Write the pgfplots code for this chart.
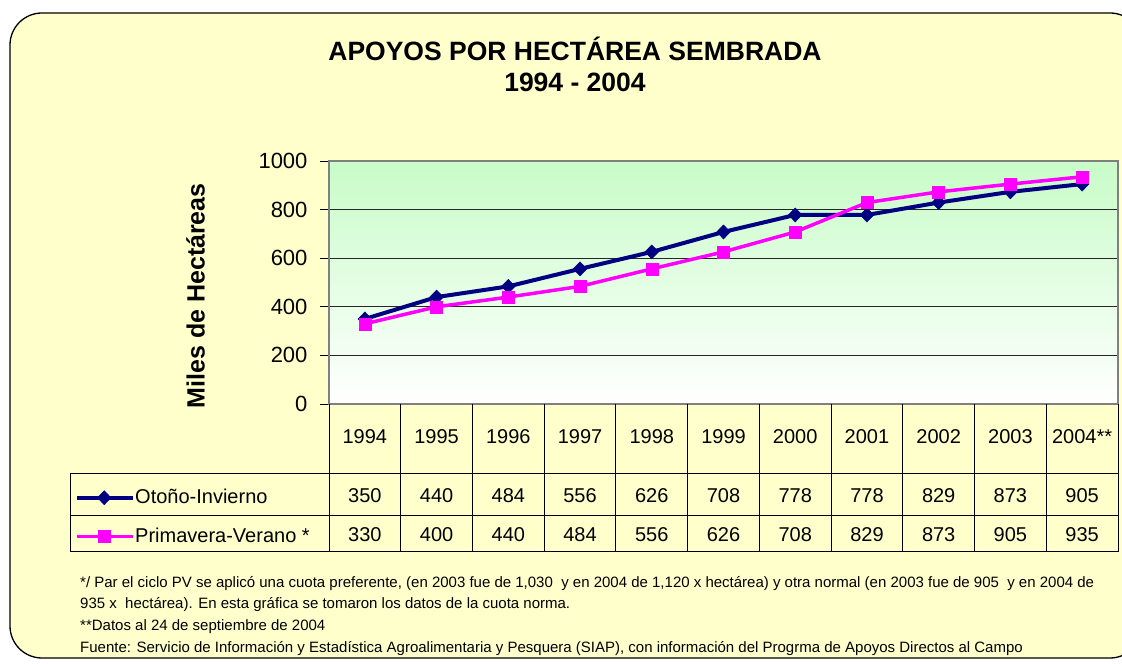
\documentclass[border=0pt]{standalone}
\usepackage{fontspec}
\setmainfont{Liberation Sans}
\usepackage{pgfplots}
\pgfplotsset{compat=1.18}
\definecolor{bgy}{HTML}{FFFFCC}
\definecolor{pgreen}{HTML}{C8FCC8}
\definecolor{navyc}{HTML}{000080}
\definecolor{magc}{HTML}{FF00FF}
\begin{document}
\begin{tikzpicture}[x=1pt,y=1pt]
\useasboundingbox (0,0) rectangle (1122,664);
\fill[white] (0,0) rectangle (1122,664);
\begin{scope}
\clip (0,0) rectangle (1122,664);
\draw[black, line width=1.3pt, fill=bgy, rounded corners=32pt] (10,6) rectangle (1142,651);
\end{scope}
% title
\node[font=\fontsize{26.5}{30}\selectfont\bfseries, anchor=base] at (575,603) {APOYOS POR HECTÁREA SEMBRADA};
\node[font=\fontsize{26.5}{30}\selectfont\bfseries, anchor=base] at (575,572) {1994 - 2004};
\begin{axis}[
  at={(329pt,260pt)}, anchor=south west, scale only axis,
  width=789pt, height=243pt,
  xmin=-0.5, xmax=10.5, ymin=0, ymax=1000,
  ytick={0,200,...,1000}, xtick=\empty,
  ytick pos=left, tick align=outside, major tick length=9pt,
  tick style={black, line width=0.8pt},
  ymajorgrids, grid style={black!85, line width=0.9pt},
  axis line style={black!50, line width=1.2pt},
  axis background/.style={shade, top color=pgreen, bottom color=white},
  /pgf/number format/assume math mode=true,
  /pgf/number format/1000 sep={},
  yticklabel style={font=\fontsize{22}{26}\selectfont, xshift=-9pt},
  ylabel={Miles de Hectáreas},
  every axis y label/.style={at={(axis description cs:-0.169,0.445)}, rotate=90, anchor=center, font=\fontsize{25}{29}\selectfont\bfseries},
  clip=false,
  legend cell align=left,
  legend style={at={(axis description cs:-0.3219,-0.3457)}, anchor=north west, draw=none, fill=none,
    font=\fontsize{20}{24}\selectfont, row sep=20pt, inner sep=0pt,
    nodes={inner sep=0pt, text height=15pt, text depth=4pt}},
  legend image code/.code={\draw[mark repeat=2,mark phase=2,#1] plot coordinates {(0pt,0pt) (27pt,0pt) (54pt,0pt)}; \path (54pt,0pt) -- (56pt,0pt);},
]
\addplot[navyc, line width=4pt, mark=diamond*, mark size=7pt, mark options={solid, line width=0.5pt, xscale=1.3}] coordinates {
(0,350) (1,440) (2,484) (3,556) (4,626) (5,708) (6,778) (7,778) (8,829) (9,873) (10,905)};
\addlegendentry{Otoño-Invierno}
\addplot[magc, line width=3.5pt, mark=square*, mark size=6pt, mark options={solid, line width=0.5pt}] coordinates {
(0,330) (1,400) (2,440) (3,484) (4,556) (5,626) (6,708) (7,829) (8,873) (9,905) (10,935)};
\addlegendentry{Primavera-Verano *}
\end{axis}
% data table grid
\begin{scope}[line width=1pt, black]
\foreach \k in {0,...,11} {
  \pgfmathsetmacro{\xx}{329+71.727*\k}
  \draw (\xx,260) -- (\xx,112);
}
\draw (70,190) -- (1118,190);
\draw (70,148) -- (1118,148);
\draw (70,112) -- (1118,112);
\draw (70,190) -- (70,112);
\end{scope}
\foreach \lab [count=\i from 0] in {1994,1995,1996,1997,1998,1999,2000,2001,2002,2003,2004**} {
  \pgfmathsetmacro{\xx}{329+71.727*(\i+0.5)}
  \node[font=\fontsize{20}{24}\selectfont, anchor=base] at (\xx,220) {\lab};
}
\foreach \v [count=\i from 0] in {350,440,484,556,626,708,778,778,829,873,905} {
  \pgfmathsetmacro{\xx}{329+71.727*(\i+0.5)}
  \node[font=\fontsize{20}{24}\selectfont, anchor=base] at (\xx,161) {\v};
}
\foreach \v [count=\i from 0] in {330,400,440,484,556,626,708,829,873,905,935} {
  \pgfmathsetmacro{\xx}{329+71.727*(\i+0.5)}
  \node[font=\fontsize{20}{24}\selectfont, anchor=base] at (\xx,122) {\v};
}
% footnotes
\begin{scope}[every node/.style={font=\fontsize{15}{18}\selectfont, anchor=base west, inner sep=0pt}]
\node at (80,76) {*/ Par el ciclo PV se aplicó una cuota preferente, (en 2003 fue de 1,030\ \ y en 2004 de 1,120 x hectárea) y otra normal (en 2003 fue de 905\ \ y en 2004 de};
\node at (80,55) {935 x\ \ hectárea). En esta gráfica se tomaron los datos de la cuota norma.};
\node at (80,33) {**Datos al 24 de septiembre de 2004};
\node at (80,11) {Fuente: Servicio de Información y Estadística Agroalimentaria y Pesquera (SIAP), con información del Progrma de Apoyos Directos al Campo};
\end{scope}
\end{tikzpicture}
\end{document}
